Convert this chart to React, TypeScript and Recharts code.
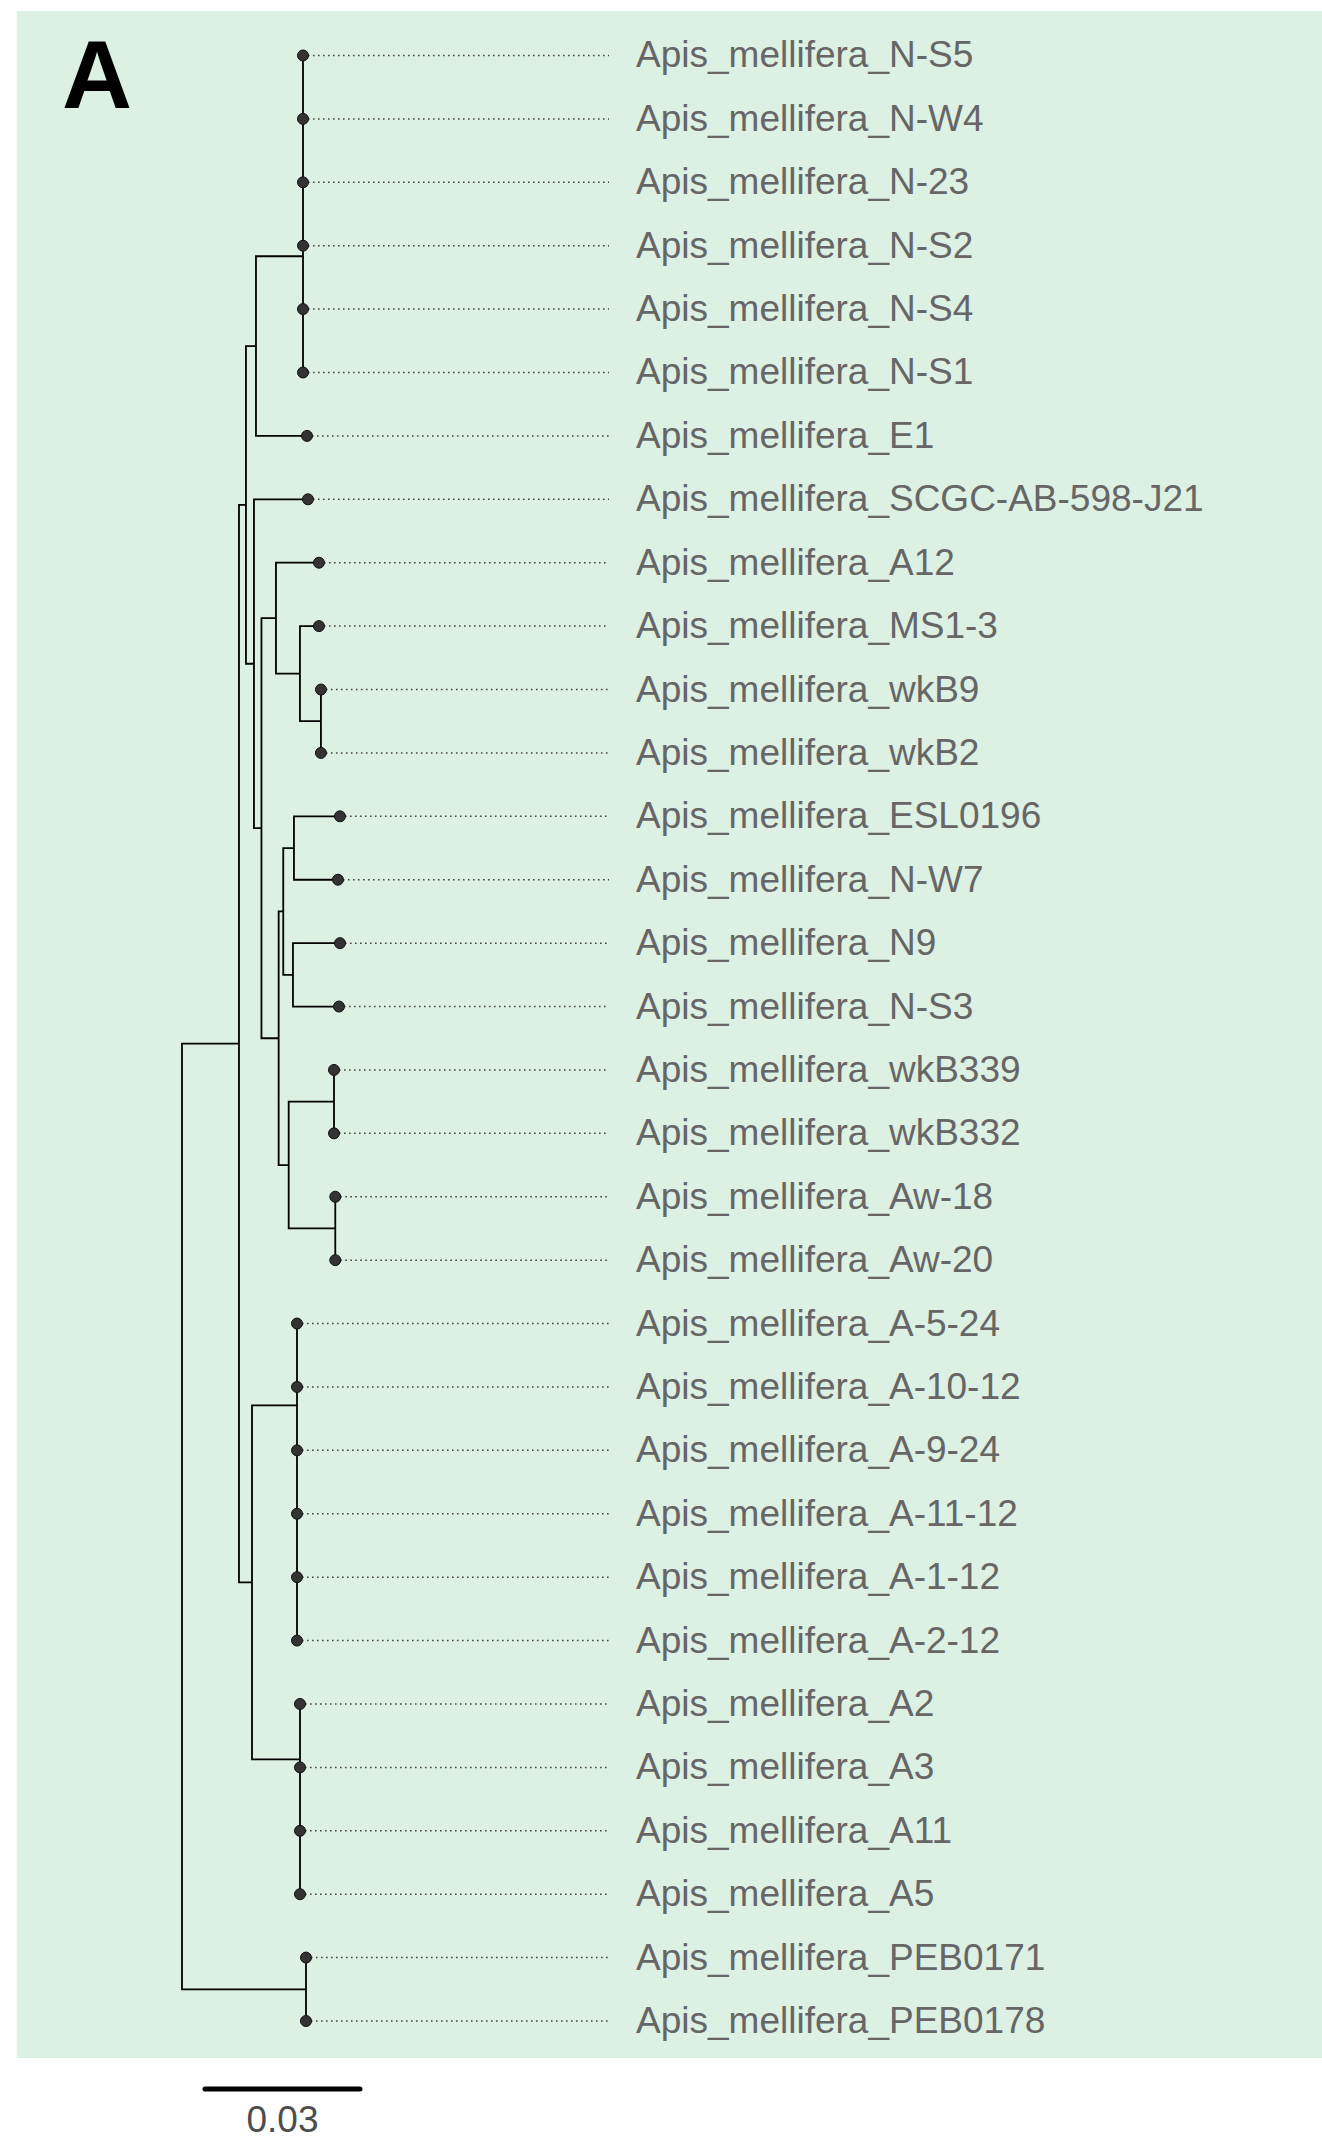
import React from 'react';
import { ComposedChart, XAxis, YAxis, Line, Scatter, ReferenceArea } from 'recharts';

// tips, top to bottom (y = index)
const tipLabels = [
  'Apis_mellifera_N-S5', 'Apis_mellifera_N-W4', 'Apis_mellifera_N-23', 'Apis_mellifera_N-S2',
  'Apis_mellifera_N-S4', 'Apis_mellifera_N-S1', 'Apis_mellifera_E1', 'Apis_mellifera_SCGC-AB-598-J21',
  'Apis_mellifera_A12', 'Apis_mellifera_MS1-3', 'Apis_mellifera_wkB9', 'Apis_mellifera_wkB2',
  'Apis_mellifera_ESL0196', 'Apis_mellifera_N-W7', 'Apis_mellifera_N9', 'Apis_mellifera_N-S3',
  'Apis_mellifera_wkB339', 'Apis_mellifera_wkB332', 'Apis_mellifera_Aw-18', 'Apis_mellifera_Aw-20',
  'Apis_mellifera_A-5-24', 'Apis_mellifera_A-10-12', 'Apis_mellifera_A-9-24', 'Apis_mellifera_A-11-12',
  'Apis_mellifera_A-1-12', 'Apis_mellifera_A-2-12', 'Apis_mellifera_A2', 'Apis_mellifera_A3',
  'Apis_mellifera_A11', 'Apis_mellifera_A5', 'Apis_mellifera_PEB0171', 'Apis_mellifera_PEB0178',
];
const tipParents = [
  'Nb', 'Nb', 'Na', 'Na', 'Nc', 'Nc', 'A', 'C',
  'A12n', 'MSn', 'wkBn', 'wkBn', 'F1', 'F1', 'F2', 'F2',
  'G1', 'G1', 'G2', 'G2', 'AC1', 'AC1', 'P1', 'P2',
  'P3', 'P3', 'AC2', 'Q1', 'Q2', 'Q2', 'PEB', 'PEB',
];
const tipLengths = [
  0, 0, 0, 0, 0, 0, 0.00987, 0.01045,
  0.00832, 0.00368, 0, 0, 0.0089, 0.00852, 0.0091, 0.0089,
  0, 0, 0, 0, 0, 0, 0, 0,
  0, 0, 0, 0, 0, 0, 0, 0,
];

// internal nodes
const nodeNames = [
  'root', 'BC', 'PEB', 'B', 'H', 'A', 'C', 'N', 'Na', 'Nb', 'Nc', 'D', 'A12n', 'MSn', 'wkBn',
  'E', 'F', 'F1', 'F2', 'G', 'G1', 'G2', 'AC1', 'P1', 'P2', 'P3', 'AC2', 'Q1', 'Q2',
];
const nodeParents: (string | null)[] = [
  null, 'root', 'root', 'BC', 'BC', 'B', 'B', 'A', 'N', 'Na', 'N', 'C', 'D', 'A12n', 'MSn',
  'D', 'E', 'F', 'F', 'E', 'G', 'G', 'H', 'AC1', 'P1', 'P2', 'H', 'AC2', 'Q1',
];
const nodeLengths = [
  0, 0.01103, 0.024, 0.00135, 0.00252, 0.00194, 0.00155, 0.0091, 0, 0, 0, 0.00145, 0.00281, 0.00464, 0.00406,
  0.00333, 0.00089, 0.00207, 0.00188, 0.00194, 0.00877, 0.00902, 0.00871, 0, 0, 0, 0.00929, 0, 0,
];

const scaleBarLength = 0.03;

// chart frame, in data units
const W = 1322;
const H = 2144;
const X_DOMAIN: [number, number] = [-0.03522, 0.22063];
const Y_DOMAIN: [number, number] = [-0.875, 32.94];
const GUIDE_END = 0.08264;
const LABEL_X = 0.08787;
const FONT = '"Liberation Sans", Arial, Helvetica, sans-serif';

function buildTree() {
  const parentOf: Record<string, string | null> = {};
  const lenOf: Record<string, number> = {};
  const children: Record<string, string[]> = {};
  nodeNames.forEach((n, i) => {
    parentOf[n] = nodeParents[i];
    lenOf[n] = nodeLengths[i];
    children[n] = children[n] || [];
    const p = nodeParents[i];
    if (p) (children[p] = children[p] || []).push(n);
  });
  tipLabels.forEach((t, i) => {
    parentOf[t] = tipParents[i];
    lenOf[t] = tipLengths[i];
    (children[tipParents[i]] = children[tipParents[i]] || []).push(t);
  });

  const xs: Record<string, number> = {};
  const getX = (n: string): number => {
    if (xs[n] === undefined) xs[n] = parentOf[n] == null ? 0 : getX(parentOf[n] as string) + lenOf[n];
    return xs[n];
  };
  const ys: Record<string, number> = {};
  tipLabels.forEach((t, i) => (ys[t] = i));
  const getY = (n: string): number => {
    if (ys[n] === undefined) {
      const c = children[n];
      ys[n] = c.reduce((s, k) => s + getY(k), 0) / c.length;
    }
    return ys[n];
  };

  // elbow edges, separated by null points
  const edges: { x: number; y: number | null }[] = [];
  [...nodeNames, ...tipLabels].forEach((n) => {
    const p = parentOf[n];
    if (!p) return;
    edges.push({ x: getX(p), y: getY(p) });
    edges.push({ x: getX(p), y: getY(n) });
    edges.push({ x: getX(n), y: getY(n) });
    edges.push({ x: getX(n), y: null });
  });

  const tips = tipLabels.map((t, i) => ({ x: getX(t), y: i, label: t }));
  const guides: { x: number; y: number | null }[] = [];
  tips.forEach((t) => {
    guides.push({ x: t.x, y: t.y });
    guides.push({ x: GUIDE_END, y: t.y });
    guides.push({ x: GUIDE_END, y: null });
  });
  return { edges, tips, guides };
}

const TipDot = (props: any) => (
  <circle cx={props.cx} cy={props.cy} r={5.5} fill="#333" stroke="#111" strokeWidth={1} />
);

const TipLabel = (props: any) => (
  <text x={props.cx} y={props.cy + 12} fontSize={37} fill="#666" fontFamily={FONT}>
    {props.payload.label}
  </text>
);

const ScaleText = (props: any) => (
  <text x={props.cx} y={props.cy} fontSize={37} fill="#4d4d4d" fontFamily={FONT} textAnchor="middle">
    {props.payload.text}
  </text>
);

const PanelTag = (props: any) => (
  <text x={props.cx} y={props.cy} fontSize={97} fontWeight="bold" fill="#000" fontFamily={FONT}>
    {props.payload.text}
  </text>
);

export default function App() {
  const { edges, tips, guides } = React.useMemo(buildTree, []);
  const barStart = 0.00445;
  const scaleBar = [
    { x: barStart, y: 32.074 },
    { x: barStart + scaleBarLength, y: 32.074 },
  ];
  const labels = tips.map((t) => ({ x: LABEL_X, y: t.y, label: t.label }));

  return (
    <div style={{ position: 'absolute', left: 0, top: 0, width: W, height: H, background: '#fff' }}>
      <ComposedChart width={W} height={H} margin={{ top: 0, right: 0, bottom: 0, left: 0 }}>
        <XAxis type="number" dataKey="x" domain={X_DOMAIN} allowDataOverflow hide />
        <YAxis type="number" dataKey="y" domain={Y_DOMAIN} allowDataOverflow reversed hide />
        <ReferenceArea
          x1={-0.03199}
          x2={X_DOMAIN[1]}
          y1={-0.702}
          y2={31.585}
          fill="#dcf0e4"
          fillOpacity={1}
          stroke="none"
          ifOverflow="visible"
        />
        <Line
          data={guides}
          dataKey="y"
          stroke="#444"
          strokeWidth={1.5}
          strokeDasharray="1.6 3.4"
          dot={false}
          activeDot={false}
          connectNulls={false}
          isAnimationActive={false}
        />
        <Line
          data={edges}
          dataKey="y"
          stroke="#000"
          strokeWidth={1.8}
          dot={false}
          activeDot={false}
          connectNulls={false}
          isAnimationActive={false}
        />
        <Scatter data={tips} shape={TipDot} isAnimationActive={false} />
        <Scatter data={labels} shape={TipLabel} isAnimationActive={false} />
        <Line
          data={scaleBar}
          dataKey="y"
          stroke="#000"
          strokeWidth={5}
          strokeLinecap="round"
          dot={false}
          activeDot={false}
          isAnimationActive={false}
        />
        <Scatter
          data={[{ x: barStart + scaleBarLength / 2, y: 32.752, text: String(scaleBarLength) }]}
          shape={ScaleText}
          isAnimationActive={false}
        />
        <Scatter data={[{ x: -0.02322, y: 0.828, text: 'A' }]} shape={PanelTag} isAnimationActive={false} />
      </ComposedChart>
    </div>
  );
}
